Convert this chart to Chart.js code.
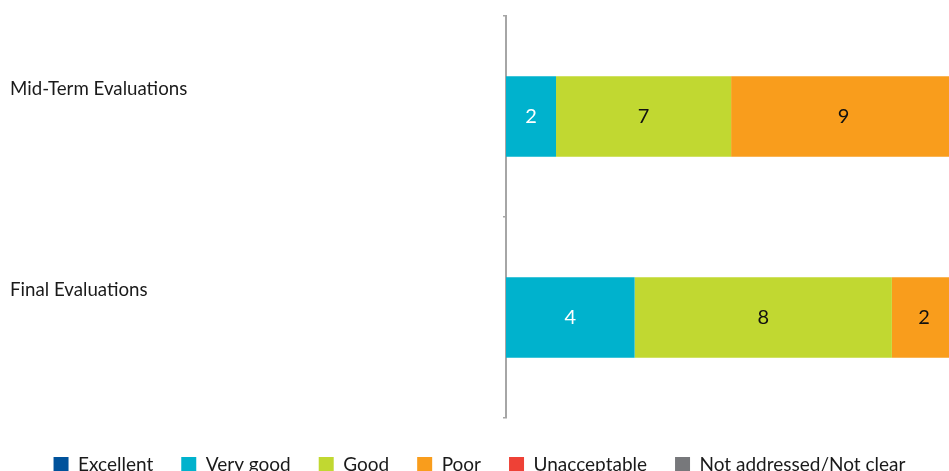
<!DOCTYPE html>
<html>
<head>
<meta charset="utf-8">
<script src="https://cdn.jsdelivr.net/npm/chart.js@4/dist/chart.umd.min.js"></script>
<style>
  html, body { margin: 0; padding: 0; background: #fff; overflow: hidden; }
  #wrap { width: 949px; height: 471px; overflow: hidden; }
  #box { position: relative; width: 949px; height: 484px; }
</style>
</head>
<body>
<div id="wrap"><div id="box"><canvas id="chart"></canvas></div></div>
<script>
// number of evaluations per rating
const categories = ['Mid-Term Evaluations', 'Final Evaluations'];
const ratings = ['Excellent', 'Very good', 'Good', 'Poor', 'Unacceptable', 'Not addressed/Not clear'];
const excellent = [0, 0];
const veryGood = [2, 4];
const good = [7, 8];
const poor = [9, 2];
const unacceptable = [0, 0];
const notAddressed = [0, 0];

const counts = [excellent, veryGood, good, poor, unacceptable, notAddressed];
const colors = ['#00529b', '#00b2cd', '#c1d831', '#f99d1c', '#ee4136', '#77787b'];
const textColors = ['#fff', '#fff', '#111', '#111', '#fff', '#fff'];

// totals per category, bars are 100% stacked
const totals = categories.map((c, i) => counts.reduce((s, arr) => s + arr[i], 0));

const datasets = ratings.map((name, k) => ({
    label: name,
    counts: counts[k],
    data: counts[k].map((v, i) => v / totals[i] * 100),
    backgroundColor: colors[k],
    borderWidth: 0,
    categoryPercentage: 1,
    barPercentage: 0.4
}));

// writes the count in the middle of each segment
const segmentLabels = {
    id: 'segmentLabels',
    afterDatasetsDraw(chart) {
        const ctx = chart.ctx;
        ctx.save();
        ctx.font = '20px Lato';
        ctx.textAlign = 'center';
        ctx.textBaseline = 'middle';
        chart.data.datasets.forEach((ds, k) => {
            const meta = chart.getDatasetMeta(k);
            meta.data.forEach((bar, i) => {
                if (!ds.counts[i]) return;
                ctx.fillStyle = textColors[k];
                ctx.fillText(ds.counts[i], (bar.x + bar.base) / 2, bar.y);
            });
        });
        ctx.restore();
    }
};

new Chart(document.getElementById('chart'), {
    type: 'bar',
    data: { labels: categories, datasets: datasets },
    options: {
        indexAxis: 'y',
        responsive: true,
        maintainAspectRatio: false,
        animation: false,
        layout: { padding: { left: 10, top: 16, right: 0, bottom: 0 } },
        scales: {
            x: {
                stacked: true,
                min: 0,
                max: 98.4,
                // axis kept invisible, only leaves a gap above the legend
                afterFit: scale => { scale.height = 9; },
                border: { display: false },
                grid: { display: false },
                ticks: { display: false }
            },
            y: {
                stacked: true,
                afterFit: scale => { scale.width = 496; },
                border: { color: '#a6a6a6', width: 2 },
                grid: {
                    offset: true,
                    drawOnChartArea: false,
                    color: '#a6a6a6',
                    lineWidth: 1.5,
                    tickLength: 3
                },
                ticks: {
                    crossAlign: 'far',
                    labelOffset: -28,
                    color: '#1a1a1a',
                    font: { family: 'Lato', size: 18.7 }
                }
            }
        },
        plugins: {
            legend: {
                position: 'bottom',
                labels: {
                    boxWidth: 15,
                    boxHeight: 15,
                    padding: 28,
                    color: '#1a1a1a',
                    font: { family: 'Lato', size: 19 }
                }
            },
            tooltip: { enabled: false }
        }
    },
    plugins: [segmentLabels]
});
</script>
</body>
</html>
